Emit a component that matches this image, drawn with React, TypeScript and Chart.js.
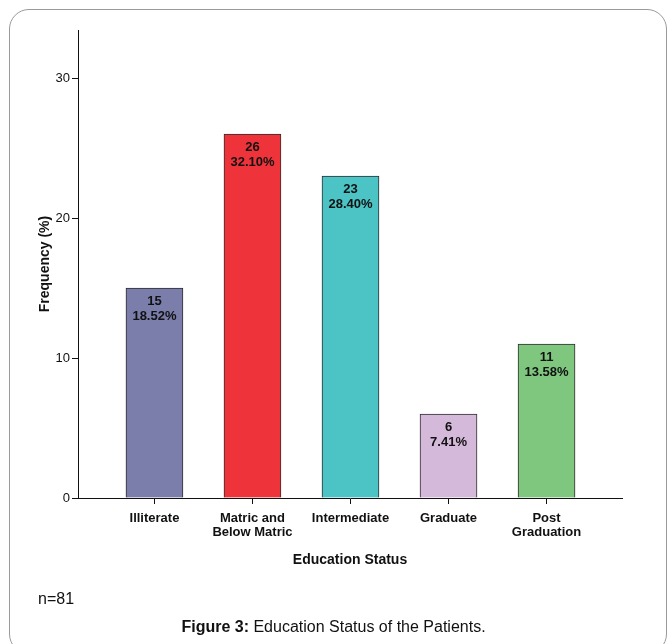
import React, { useEffect, useRef } from "react";
import { Chart, registerables } from "chart.js";

Chart.register(...registerables);

const categories: string[][] = [
  ["Illiterate"],
  ["Matric and", "Below Matric"],
  ["Intermediate"],
  ["Graduate"],
  ["Post", "Graduation"],
];
const counts = [15, 26, 23, 6, 11];
const percents = ["18.52%", "32.10%", "28.40%", "7.41%", "13.58%"];
const barColors = ["#7b7dab", "#ee343a", "#4cc3c5", "#d5b9da", "#7fc67f"];
const yTicks = [0, 10, 20, 30];
const yTitle = "Frequency (%)";
const xTitle = "Education Status";
const sampleNote = "n=81";
const captionBold = "Figure 3:";
const captionText = " Education Status of the Patients.";

const FONT = "'Liberation Sans', Arial, Helvetica, sans-serif";

const barLabels = {
  id: "barLabels",
  afterDatasetsDraw(chart: any) {
    const meta = chart.getDatasetMeta(0);
    const ctx = chart.ctx;
    ctx.save();
    ctx.font = `bold 13px ${FONT}`;
    ctx.fillStyle = "#111111";
    ctx.textAlign = "center";
    ctx.textBaseline = "alphabetic";
    meta.data.forEach((bar: any, i: number) => {
      ctx.fillText(String(counts[i]), bar.x, bar.y + 17);
      ctx.fillText(percents[i], bar.x, bar.y + 32);
    });
    ctx.restore();
  },
};

export default function App() {
  const canvasRef = useRef<HTMLCanvasElement | null>(null);

  useEffect(() => {
    if (!canvasRef.current) return;
    Chart.defaults.font.family = FONT;
    const chart = new Chart(canvasRef.current, {
      type: "bar",
      data: {
        datasets: [
          {
            data: counts.map((v, i) => ({ x: i, y: v })),
            backgroundColor: barColors,
            borderColor: "#2e2e2e",
            borderWidth: 1,
            barThickness: 57,
          } as any,
        ],
      },
      options: {
        animation: false,
        responsive: false,
        layout: { padding: { left: 0, right: 45, top: 30, bottom: 60 } },
        plugins: {
          legend: { display: false },
          tooltip: { enabled: false },
        },
        scales: {
          x: {
            type: "linear",
            offset: false,
            min: -0.78,
            max: 4.77,
            afterBuildTicks: (s: any) => {
              s.ticks = categories.map((_, i) => ({ value: i }));
            },
            afterFit: (s: any) => {
              s.height = 86;
            },
            ticks: {
              autoSkip: false,
              maxRotation: 0,
              padding: 7,
              color: "#111111",
              font: { size: 13, weight: "bold", lineHeight: 1.1 },
              callback: (_v: any, i: number) => categories[i],
            },
            grid: {
              offset: false,
              drawOnChartArea: false,
              drawTicks: true,
              tickLength: 6,
              color: "#111111",
            },
            border: { color: "#111111", width: 1 },
            title: {
              display: true,
              text: xTitle,
              color: "#111111",
              font: { size: 14, weight: "bold" },
              padding: { top: 0, bottom: 15 },
            },
          },
          y: {
            type: "linear",
            min: 0,
            max: 33.43,
            afterBuildTicks: (s: any) => {
              s.ticks = yTicks.map((v) => ({ value: v }));
            },
            afterFit: (s: any) => {
              s.width = 78;
            },
            ticks: {
              padding: 2,
              color: "#111111",
              font: { size: 13 },
            },
            grid: {
              drawOnChartArea: false,
              drawTicks: true,
              tickLength: 6,
              color: "#111111",
            },
            border: { color: "#111111", width: 1 },
            title: {
              display: true,
              text: yTitle,
              color: "#111111",
              font: { size: 14, weight: "bold" },
              padding: { top: 37, bottom: 0 },
            },
          },
        },
      } as any,
      plugins: [barLabels],
    });
    return () => chart.destroy();
  }, []);

  return (
    <div
      style={{
        position: "fixed",
        left: 0,
        top: 0,
        width: 667,
        height: 644,
        background: "#ffffff",
        overflow: "hidden",
        fontFamily: FONT,
      }}
    >
      <div
        style={{
          position: "absolute",
          left: 9,
          top: 9,
          width: 658,
          height: 645,
          boxSizing: "border-box",
          border: "1px solid #9a9a9a",
          borderRadius: 20,
        }}
      />
      <canvas
        ref={canvasRef}
        width={667}
        height={644}
        style={{ position: "absolute", left: 0, top: 0, display: "block" }}
      />
      <div
        style={{
          position: "absolute",
          left: 38,
          top: 590,
          fontSize: 16,
          color: "#111111",
          whiteSpace: "nowrap",
        }}
      >
        {sampleNote}
      </div>
      <div
        style={{
          position: "absolute",
          left: 0,
          top: 618,
          width: 667,
          textAlign: "center",
          fontSize: 16,
          color: "#111111",
          whiteSpace: "nowrap",
        }}
      >
        <b>{captionBold}</b>
        {captionText}
      </div>
    </div>
  );
}
